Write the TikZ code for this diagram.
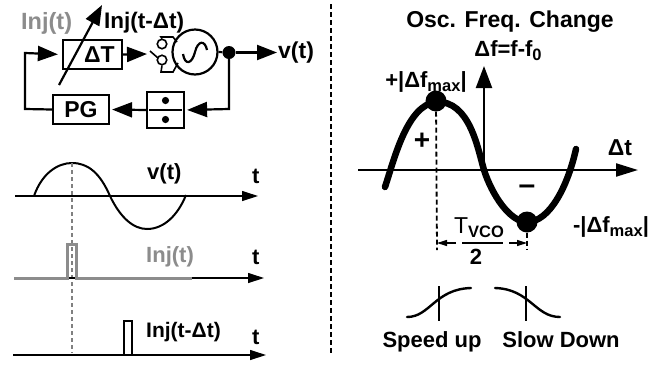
\documentclass[tikz,border=0pt]{standalone}
\usepackage{fontspec}
\setmainfont{Liberation Sans}[BoldFont={Liberation Sans Bold}]
\usetikzlibrary{arrows.meta}
\definecolor{gr}{gray}{0.55}
\definecolor{dgr}{gray}{0.5}
\newcommand{\lsb}[1]{\raisebox{-0.2em}{\fontsize{16.5}{16.5}\selectfont #1}}
\tikzset{
 lbl/.style={font=\fontsize{22}{22}\selectfont\bfseries,inner sep=0pt,text=black,anchor=base west},
 ctr/.style={font=\fontsize{22}{22}\selectfont\bfseries,inner sep=0pt,text=black,anchor=base},
 blk/.style={draw=black,line width=2.2pt,fill=white,inner sep=0pt,font=\fontsize{23}{23}\selectfont\bfseries},
 wire/.style={line width=2.2pt},
 bigarrow/.style={-{Triangle[length=20pt,width=15pt]},shorten >=2pt},
 guide/.style={dgr,line width=1.3pt,dash pattern=on 4pt off 3pt},
 bdash/.style={black,line width=1.8pt,dash pattern=on 5pt off 3pt},
 dot/.style={circle,fill=black,inner sep=0pt},
 thinl/.style={line width=1.6pt},
 axisline/.style={line width=1.2pt,-{Triangle[length=16pt,width=10pt]}}
}
\begin{document}
\begin{tikzpicture}[x=1pt,y=-1pt]
\useasboundingbox (0,0) rectangle (666,365);
% divider
\coordinate (d1) at (331,4); \coordinate (d2) at (331,355);
\draw[bdash] (d1) -- (d2);
% block diagram
\node[blk,minimum width=59pt,minimum height=29pt] (dT) at (92.5,54.5) {\hspace*{14pt}ΔT};
\node[blk,minimum width=56pt,minimum height=29pt] (pg) at (81,109.5) {PG};
\node[blk,minimum width=37pt,minimum height=36pt] (div) at (165.5,110) {};
\fill (div.center)+(0,-9.5) circle (3.6pt);
\fill (div.center)+(0,9.5) circle (3.6pt);
\draw[wire] (149,110) -- (182,110);
\node[draw=black,line width=2.2pt,circle,minimum size=45pt,inner sep=0pt] (osc) at (195,52) {};
\draw[wire] (183,54) .. controls (185,66) and (192,64) .. (195,52) .. controls (198,40) and (205,40) .. (207,50);
\node[dot,minimum size=13pt] (vd) at (229,52.5) {};
\coordinate (vout) at (277,52.5);
\draw[wire,bigarrow,shorten >=0pt] (vd) -- (vout);
\node[lbl,font=\fontsize{23}{23}\selectfont\bfseries] (vt) at (278,58) {v(t)};
\draw[wire] (osc.east) -- (vd);
\coordinate (c1) at (229,109);
\draw[wire,bigarrow] (vd) -- (c1) -- (div.east);
\draw[wire,bigarrow] (div.west) -- (pg.east);
\coordinate (c2) at (25,109); \coordinate (c3) at (25,53);
\draw[wire,bigarrow,shorten >=4pt] (pg.west) -- (c2) -- (c3) -- (dT.west);
\draw[wire,bigarrow,shorten >=0pt] (dT.east) -- (147,54);
% switch
\node[draw=black,thinl,circle,minimum size=9.5pt,inner sep=0pt] (s1) at (162,44) {};
\node[draw=black,thinl,circle,minimum size=9.5pt,inner sep=0pt] (s2) at (162,60) {};
\coordinate (s0) at (150,51);
\draw[thinl] (s0) -- (158,58);
\draw[thinl] (s1.north) -- (161,37) -- (173,37) -- (177,42);
\draw[thinl] (s2.south) -- (161,72) -- (173,72) -- (178,63);
% variable delay arrow
\coordinate (va) at (59,85); \coordinate (vb) at (102,5);
\draw[wire,bigarrow,shorten >=0pt] (va) -- (vb);
\node[lbl,text=gr,font=\fontsize{23.5}{23.5}\selectfont\bfseries] (l1) at (21,29) {Inj(t)};
\node[lbl,font=\fontsize{22.5}{22.5}\selectfont\bfseries] (l2) at (104,28) {Inj(t-Δt)};
% waveforms
\coordinate (a1) at (15,196); \coordinate (a2) at (258,196);
\draw[axisline] (a1) -- (a2);
\draw[line width=2pt] (34,196) .. controls (42,173) and (58,163) .. (72,163) .. controls (88,163) and (100,173) .. (110,196) .. controls (120,217) and (133,229) .. (147,229) .. controls (164,229) and (178,215) .. (186,195);
\coordinate (g1) at (72,163); \coordinate (g2) at (72,353);
\draw[guide] (g1) -- (g2);
\node[lbl] (l3) at (147,179) {v(t)};
\node[lbl] (t1) at (252,183) {t};
% inj(t)
\coordinate (b1) at (14,278); \coordinate (b2) at (264,278);
\draw[axisline] (b1) -- (b2);
\draw[gr,line width=3pt] (14,278) -- (67.5,278) -- (67.5,244) -- (76,244) -- (76,278) -- (192,278);
\node[lbl,text=gr] (l4) at (146,262) {Inj(t)};
\node[lbl] (t2) at (252,264) {t};
% inj(t-dt)
\coordinate (e1) at (13,355); \coordinate (e2) at (266,355);
\draw[axisline] (e1) -- (e2);
\draw[line width=2.8pt] (13,355) -- (124,355) -- (124,321) -- (132,321) -- (132,355) -- (190,355);
\node[lbl,font=\fontsize{21}{21}\selectfont\bfseries] (l5) at (146,337) {Inj(t-Δt)};
\node[lbl] (t3) at (252,344) {t};
% right plot
\node[ctr,font=\fontsize{23}{23}\selectfont\bfseries] (title) at (510,27) {Osc. Freq. Change};
\node[ctr] (df) at (508,56) {Δf=f-f\lsb{0}};
\coordinate (x1) at (358,170); \coordinate (x2) at (638,170);
\draw[wire,-{Triangle[length=22pt,width=13pt]}] (x1) -- (x2);
\coordinate (y1) at (484,170); \coordinate (y2) at (484,66);
\draw[wire,-{Triangle[length=22pt,width=16pt]}] (y1) -- (y2);
\draw[line width=6.5pt,line cap=round] (385,187) .. controls (394,160) and (407,105) .. (436,102) .. controls (470,100) and (478,150) .. (484,170) .. controls (492,195) and (510,222) .. (527,222) .. controls (550,222) and (568,185) .. (576,149);
\node[dot,minimum size=21pt] (p1) at (436,101) {};
\node[dot,minimum size=21pt] (p2) at (527,222) {};
\coordinate (q1) at (437,250); \coordinate (q2) at (527,250);
\draw[bdash] (p1) -- (q1);
\draw[bdash] (p2) -- (q2);
\node[ctr] (l6) at (426,87) {+|Δf\lsb{max}|};
\node[ctr] (l7) at (611,232) {-|Δf\lsb{max}|};
\node[ctr,anchor=center,font=\fontsize{28}{28}\selectfont\bfseries] (plus) at (422,141) {+};
\node[ctr,anchor=center,font=\fontsize{30}{30}\selectfont\bfseries] (minus) at (527,190) {–};
\node[ctr,font=\fontsize{23}{23}\selectfont\bfseries] (dt) at (620,155) {Δt};
% T/2
\node[ctr,font=\fontsize{23}{23}\selectfont] (tv) at (479,233) {T\lsb{\bfseries VCO}};
\node[ctr] (two) at (476,264) {2};
\coordinate (f1) at (462,243); \coordinate (f2) at (503,243);
\draw[line width=1.2pt] (f1) -- (f2);
\coordinate (h1) at (456,243); \coordinate (h2) at (509,243);
\draw[line width=1.2pt,-{Triangle[length=10pt,width=6pt]}] (h1) -- (q1|-h1);
\draw[line width=1.2pt,-{Triangle[length=10pt,width=6pt]}] (h2) -- (q2|-h2);
% speed up / slow down
\draw[line width=2.4pt,line cap=round] (407,317) .. controls (430,317) and (435,289) .. (471,288);
\coordinate (m1) at (439,286); \coordinate (m2) at (439,321);
\draw[line width=2pt] (m1) -- (m2);
\draw[line width=2.4pt,line cap=round] (495,288) .. controls (530,289) and (535,317) .. (560,317);
\coordinate (m3) at (526,286); \coordinate (m4) at (526,321);
\draw[line width=2pt] (m3) -- (m4);
\node[ctr] (l8) at (432,347) {Speed up};
\node[ctr] (l9) at (561,347) {Slow Down};
\end{tikzpicture}
\end{document}
